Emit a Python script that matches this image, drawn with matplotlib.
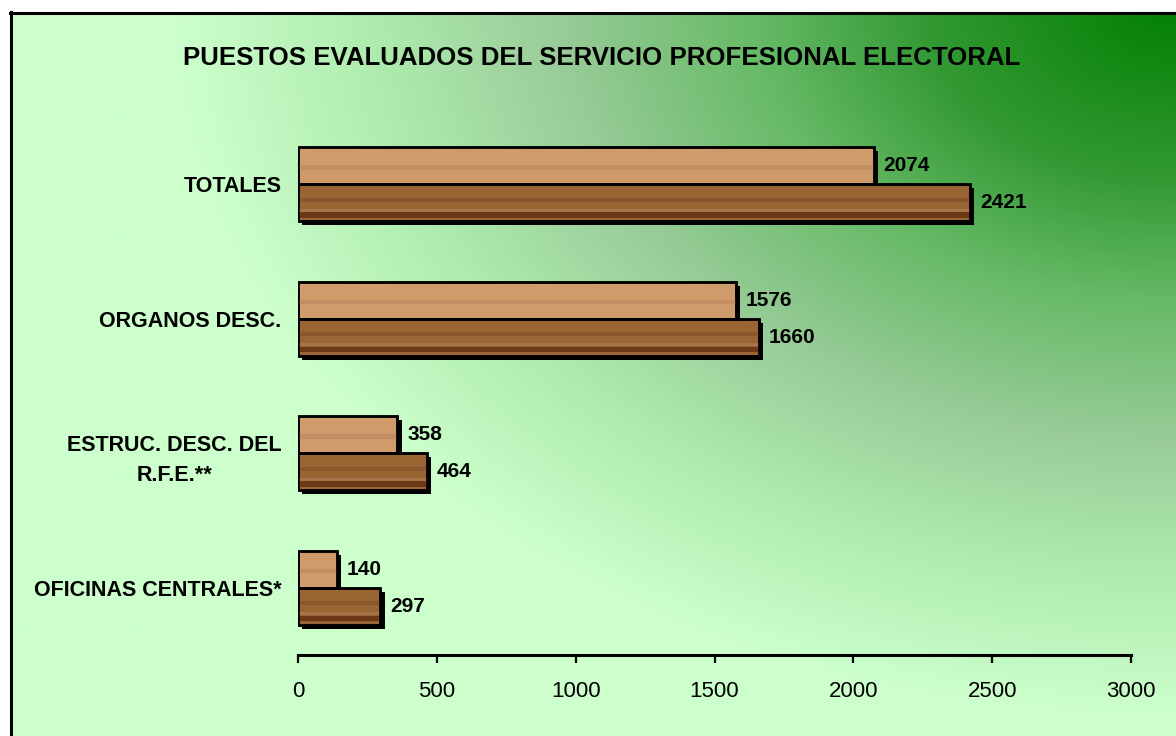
import numpy as np
import matplotlib
matplotlib.use("Agg")
import matplotlib.pyplot as plt
import matplotlib.patheffects as pe
from matplotlib.lines import Line2D

# ---- data ----
categories = ["TOTALES", "ORGANOS DESC.", "ESTRUC. DESC. DEL\nR.F.E.**", "OFICINAS CENTRALES*"]
series_top = [2074, 1576, 358, 140]      # light bars
series_bottom = [2421, 1660, 464, 297]   # dark bars
xticks = [0, 500, 1000, 1500, 2000, 2500, 3000]
title = "PUESTOS EVALUADOS DEL SERVICIO PROFESIONAL ELECTORAL"

W, H = 1176, 736
fig = plt.figure(figsize=(W / 100, H / 100), dpi=100)
fig.patch.set_facecolor("white")

# ---- background gradient (dark green top-right -> light green elsewhere) ----
bg = fig.add_axes([10 / W, 0, 1 - 10 / W, 1 - 12 / H])
bg.set_axis_off()
nx, ny = 400, 250
xs = np.linspace(10, W, nx)
ys = np.linspace(12, H, ny)
X, Y = np.meshgrid(xs, ys)
d = np.sqrt((W - X) ** 2 + (1.4 * Y) ** 2)
stops = [0, 250, 420, 620, 800, 1000]
cols = np.array([[0.00, 0.50, 0.00],
                 [0.20, 0.60, 0.20],
                 [0.40, 0.73, 0.40],
                 [0.60, 0.80, 0.60],
                 [0.68, 0.92, 0.68],
                 [0.80, 1.00, 0.80]])
img = np.stack([np.interp(d, stops, cols[:, k]) for k in range(3)], axis=-1)
bg.imshow(img, aspect="auto", extent=[0, 1, 0, 1], origin="upper")
bg.set_xlim(0, 1)
bg.set_ylim(0, 1)

# frame lines (left and top)
fig.add_artist(Line2D([10.5 / W, 10.5 / W], [0, 1 - 12 / H], color="black", lw=2.2))
fig.add_artist(Line2D([10 / W, 1], [1 - 12.5 / H, 1 - 12.5 / H], color="black", lw=2.2))

# ---- main axes ----
ax = fig.add_axes([298 / W, 1 - 655 / H, (1131 - 298) / W, (655 - 117) / H])
ax.set_facecolor("none")
ax.set_xlim(0, 3000)
ax.set_ylim(3.5, -0.5)

y = np.arange(len(categories))
h = 0.275
shadow = [pe.SimplePatchShadow(offset=(3, -3), shadow_rgbFace="black", alpha=1.0), pe.Normal()]

b1 = ax.barh(y - h / 2, series_top, height=h, color="#cf9b6b", edgecolor="black", linewidth=1.8, zorder=3)
b2 = ax.barh(y + h / 2, series_bottom, height=h, color="#996633", edgecolor="black", linewidth=1.8, zorder=3)
for b in list(b1) + list(b2):
    b.set_path_effects(shadow)
# wood shading bands
ax.barh(y + h / 2 + h * 0.33, series_bottom, height=h * 0.14, color="#6b3818", linewidth=0, zorder=4)
ax.barh(y + h / 2 + h * 0.20, series_bottom, height=h * 0.08, color="#a87a50", linewidth=0, zorder=4, alpha=0.8)
ax.barh(y - h / 2 + h * 0.05, series_top, height=h * 0.12, color="#c08860", linewidth=0, zorder=4, alpha=0.7)
ax.barh(y + h / 2 - h * 0.08, series_bottom, height=h * 0.10, color="#85522c", linewidth=0, zorder=4, alpha=0.8)
# outlines on top
ax.barh(y - h / 2, series_top, height=h, fill=False, edgecolor="black", linewidth=1.8, zorder=5)
ax.barh(y + h / 2, series_bottom, height=h, fill=False, edgecolor="black", linewidth=1.8, zorder=5)

lab_font = ["Liberation Sans", "DejaVu Sans"]
for yi, v in zip(y, series_top):
    ax.annotate(str(v), (v, yi - h / 2), xytext=(7, 0), textcoords="offset points",
                va="center", ha="left", fontsize=15, fontweight="bold", family=lab_font, zorder=6)
for yi, v in zip(y, series_bottom):
    ax.annotate(str(v), (v, yi + h / 2), xytext=(7, 0), textcoords="offset points",
                va="center", ha="left", fontsize=15, fontweight="bold", family=lab_font, zorder=6)

# y labels
ax.set_yticks(y)
ax.set_yticklabels(categories, fontsize=15.5, fontweight="bold", family=lab_font,
                   multialignment="center", linespacing=1.55)
ax.tick_params(axis="y", length=0, pad=12)

# x axis
ax.set_xticks(xticks)
ax.set_xticklabels([str(v) for v in xticks], fontsize=16, family=lab_font)
ax.tick_params(axis="x", direction="out", length=6, width=1.6, pad=13, color="black")
for s in ["top", "right", "left"]:
    ax.spines[s].set_visible(False)
ax.spines["bottom"].set_linewidth(2.2)

fig.text(602 / W, 1 - 58 / H, title, ha="center", va="center", fontsize=18.6,
         fontweight="bold", family=lab_font)

fig.savefig("out.png", dpi=100)
